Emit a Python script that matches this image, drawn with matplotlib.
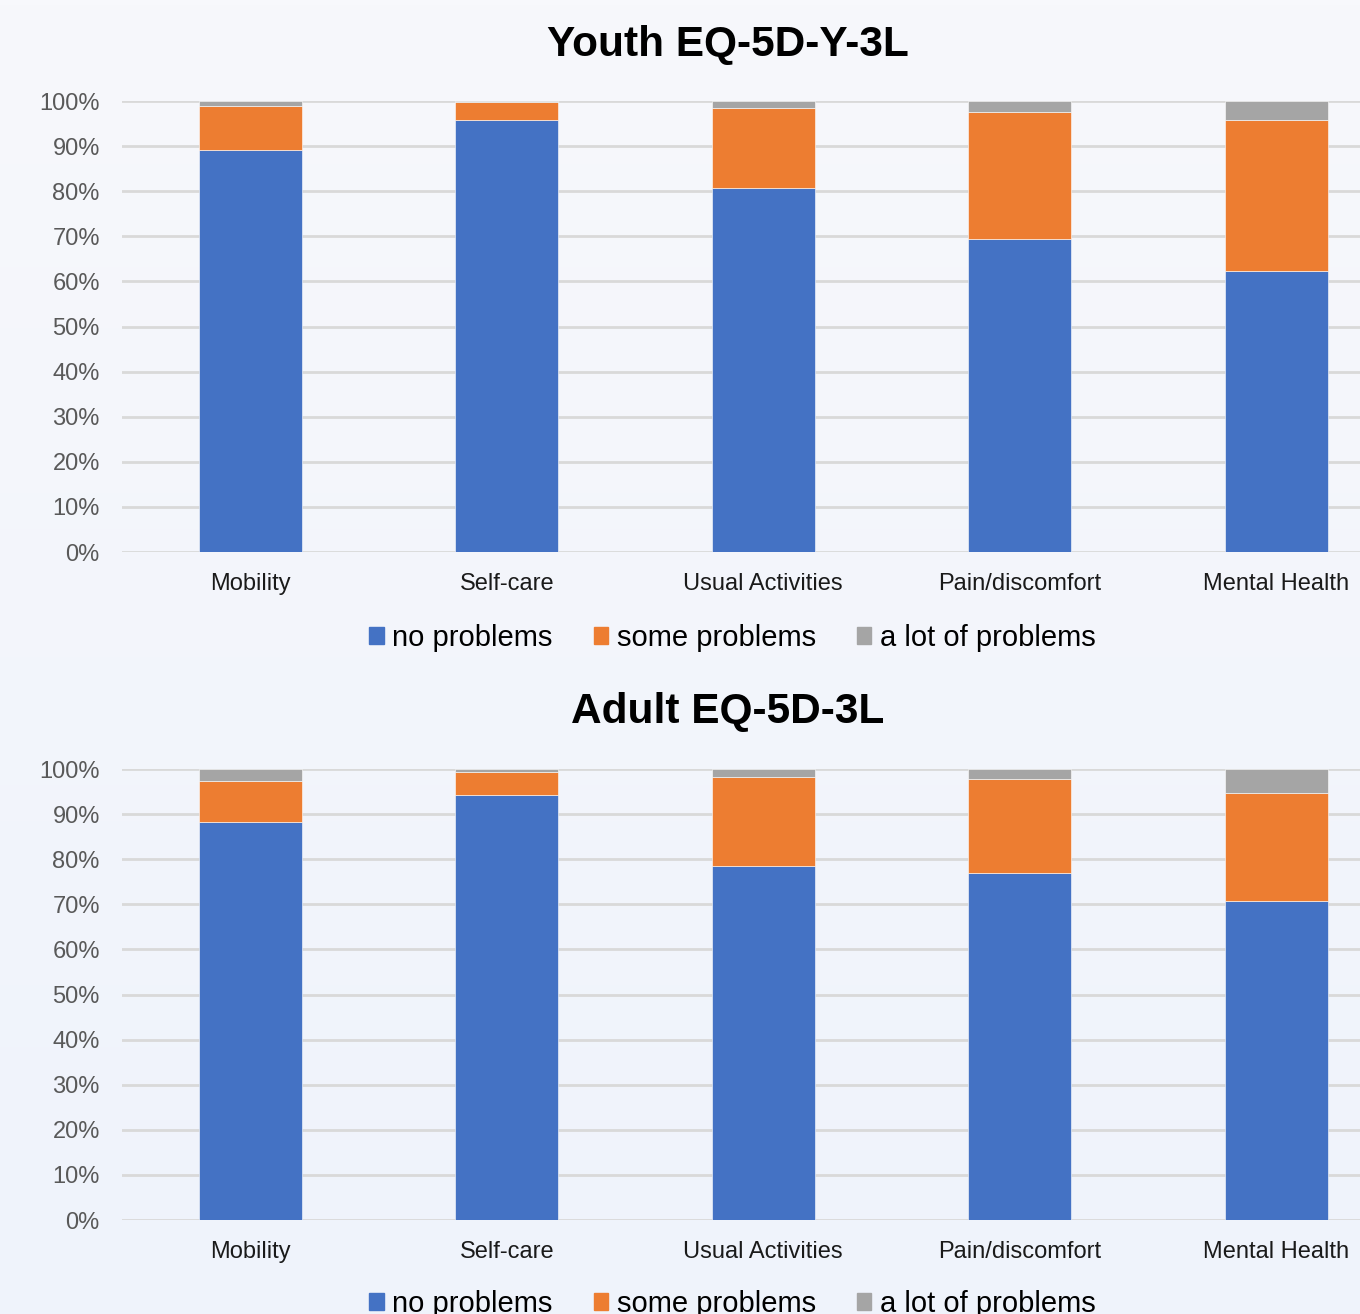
import matplotlib
matplotlib.use("Agg")
import numpy as np
import matplotlib.pyplot as plt
from matplotlib.colors import LinearSegmentedColormap
from matplotlib.patches import Patch
from matplotlib.ticker import PercentFormatter

categories = ["Mobility", "Self-care", "Usual Activities", "Pain/discomfort", "Mental Health"]
series_names = ["no problems", "some problems", "a lot of problems"]

youth_no = [89.2, 95.9, 80.8, 69.3, 62.4]
youth_some = [9.7, 3.8, 17.7, 28.2, 33.5]
youth_alot = [1.1, 0.3, 1.5, 2.5, 4.1]

adult_no = [88.3, 94.2, 78.6, 76.9, 70.7]
adult_some = [9.0, 5.1, 19.7, 20.9, 24.0]
adult_alot = [2.7, 0.7, 1.7, 2.2, 5.3]

colors = ["#4472C4", "#ED7D31", "#A5A5A5"]
bg_top, bg_bottom = "#f7f8fc", "#eff3fb"

plt.rcParams["font.family"] = ["Liberation Sans", "DejaVu Sans"]

fig = plt.figure(figsize=(13.6, 13.14), dpi=100)
fig.patch.set_facecolor(bg_top)

# soft vertical gradient behind everything
bgax = fig.add_axes([0, 0, 1, 1], zorder=-10)
bgax.imshow(np.linspace(0, 1, 256).reshape(-1, 1), aspect="auto",
            cmap=LinearSegmentedColormap.from_list("bg", [bg_top, bg_bottom]),
            extent=[0, 1, 0, 1])
bgax.axis("off")


def draw(ax, no, some, alot):
    ax.patch.set_alpha(0)
    x = range(len(categories))
    bottom = [0] * len(categories)
    for vals, c in zip([no, some, alot], colors):
        ax.bar(x, vals, 0.4, bottom=bottom, color=c, edgecolor="#ffffff",
               linewidth=0.4, zorder=3)
        bottom = [b + v for b, v in zip(bottom, vals)]
    ax.set_xlim(-0.5, 4.5)
    ax.set_ylim(0, 100)
    ax.set_yticks(range(0, 101, 10))
    ax.yaxis.set_major_formatter(PercentFormatter(decimals=0))
    ax.set_xticks(list(x))
    ax.set_xticklabels(categories)
    ax.grid(axis="y", color="#d9d9d9", linewidth=2, zorder=0)
    for s in ["top", "right", "left", "bottom"]:
        ax.spines[s].set_visible(False)
    ax.tick_params(axis="y", length=0, pad=16, labelsize=17, labelcolor="#595959")
    ax.tick_params(axis="x", length=0, pad=15, labelsize=17, labelcolor="#1a1a1a")


ax1 = fig.add_axes([0.0897, 0.5799, 0.943, 0.3432])
draw(ax1, youth_no, youth_some, youth_alot)
ax2 = fig.add_axes([0.0897, 0.0715, 0.943, 0.3432])
draw(ax2, adult_no, adult_some, adult_alot)

fig.text(0.535, 0.966, "Youth EQ-5D-Y-3L", ha="center", va="center",
         fontsize=30.5, fontweight="bold")
fig.text(0.535, 0.458, "Adult EQ-5D-3L", ha="center", va="center",
         fontsize=30.5, fontweight="bold")

handles = [Patch(color=c) for c in colors]
for y in [0.5145, 0.0075]:
    fig.legend(handles, series_names, loc="center", bbox_to_anchor=(0.5386, y),
               ncol=3, frameon=False, fontsize=21, handlelength=0.5,
               handleheight=0.5, handletextpad=0.3, columnspacing=1.4)

fig.savefig("out.png", dpi=100, facecolor=bg_top)
